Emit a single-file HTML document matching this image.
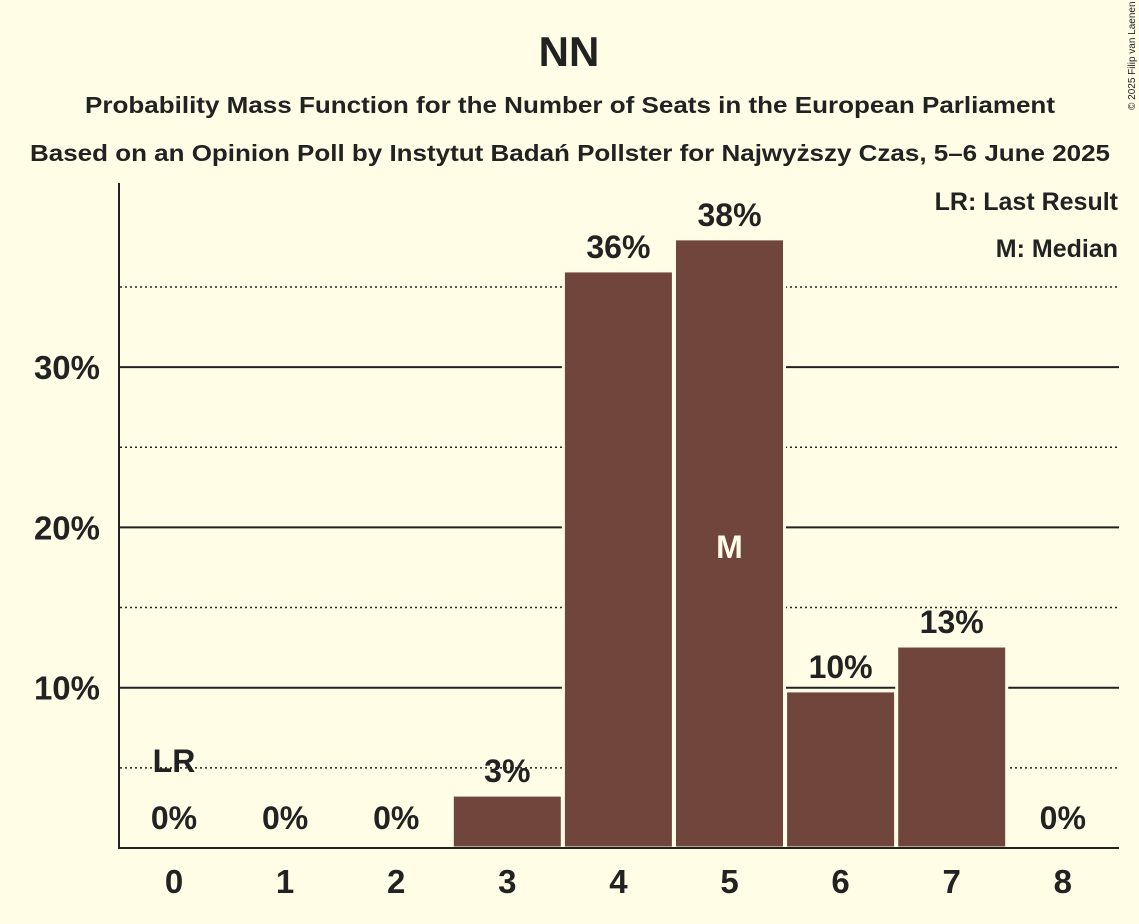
<!DOCTYPE html>
<html><head><meta charset="utf-8"><style>
body{margin:0;background:#fffde6;}
svg{display:block;font-family:"Liberation Sans",sans-serif;font-weight:bold;}
</style></head><body>
<svg id="chart" width="1139" height="924" viewBox="0 0 1139 924">
<rect width="1139" height="924" fill="#fffde6"/>
<text x="569" y="66" text-anchor="middle" font-size="42" fill="#222">NN</text>
<text x="85" y="113" textLength="970" lengthAdjust="spacingAndGlyphs" font-size="23" fill="#222">Probability Mass Function for the Number of Seats in the European Parliament</text>
<text x="30" y="161" textLength="1080" lengthAdjust="spacingAndGlyphs" font-size="23" fill="#222">Based on an Opinion Poll by Instytut Badań Pollster for Najwyższy Czas, 5–6 June 2025</text>
<text transform="translate(1135,110) rotate(-90)" font-size="10" font-weight="normal" fill="#222">© 2025 Filip van Laenen</text>
<text x="1118" y="210" text-anchor="end" font-size="25" fill="#222">LR: Last Result</text>
<text x="1118" y="257" text-anchor="end" font-size="25" fill="#222">M: Median</text>
<g id="grid"></g><g id="bars"></g><g id="labels"></g>
<line x1="119" y1="183" x2="119" y2="849" stroke="#222" stroke-width="2"/>
<line x1="118" y1="848" x2="1119" y2="848" stroke="#222" stroke-width="2"/>
</svg>
<script>
const seats=[0,1,2,3,4,5,6,7,8];
const probs=[0,0,0,3.3,36,38,9.8,12.6,0];
const shown=["0%","0%","0%","3%","36%","38%","10%","13%","0%"];
const yTicks=[10,20,30];
const yTickLabels=["10%","20%","30%"];
const dotted=[5,15,25,35];
const lastResult=0, median=5;
const NS="http://www.w3.org/2000/svg";
const y=v=>848-v*16.03;
const x=s=>174+s*111.1;
function mk(t,a,p){const e=document.createElementNS(NS,t);for(const k in a)e.setAttribute(k,a[k]);p.appendChild(e);return e;}
const g=document.getElementById('grid'),b=document.getElementById('bars'),l=document.getElementById('labels');
dotted.forEach(v=>{const e=mk('line',{x1:120,x2:1119,y1:y(v),y2:y(v),stroke:'#222','stroke-width':1.5,'stroke-dasharray':'2,3'},g);

});
yTicks.forEach((v,i)=>{const e=mk('line',{x1:120,x2:1119,y1:y(v),y2:y(v),stroke:'#222','stroke-width':2},g);


const t=mk('text',{x:100,y:y(v)+12,'text-anchor':'end','font-size':33,fill:'#222'},l);t.textContent=yTickLabels[i];

});
seats.forEach((s,i)=>{
 const p=probs[i];
 if(p>0){const r=mk('rect',{x:x(s)-55,y:y(p),width:110,height:848-y(p),fill:'#70463c',stroke:'#fffde6','stroke-width':3},b);
 
 }
 const t=mk('text',{x:x(s),y:(p>0?y(p)-13:829),'text-anchor':'middle','font-size':32,fill:'#222'},l);t.textContent=shown[i];
 
 
 const xt=mk('text',{x:x(s),y:893,'text-anchor':'middle','font-size':33,fill:'#222'},l);xt.textContent=s;
 
 
 if(s===lastResult){const lr=mk('text',{x:x(s),y:772,'text-anchor':'middle','font-size':32,fill:'#222'},l);lr.textContent='LR';
 
 }
 if(s===median){const m=mk('text',{x:x(s),y:558,'text-anchor':'middle','font-size':32,fill:'#fffde6'},l);m.textContent='M';
 
 }
});
</script>
</body></html>
